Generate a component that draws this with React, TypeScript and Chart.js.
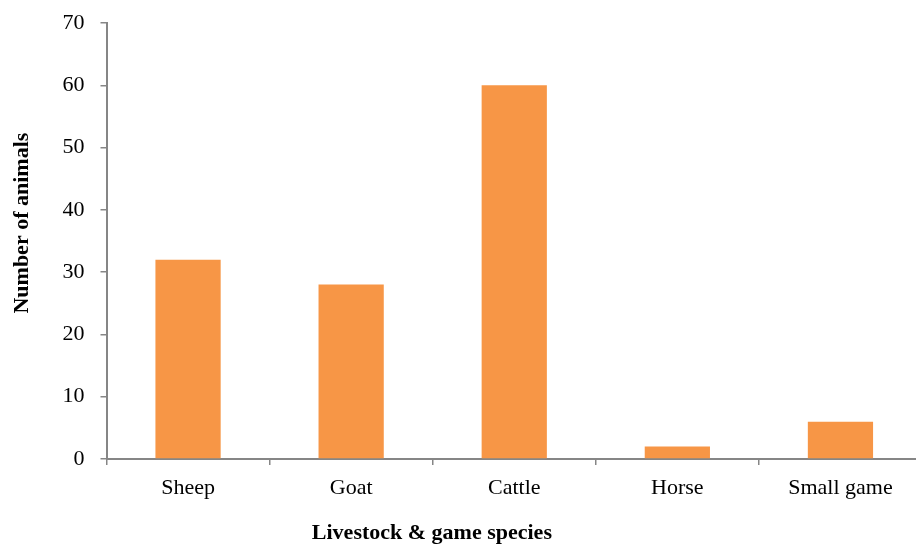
import React, { useEffect, useRef } from "react";
import { Chart, registerables } from "chart.js";

Chart.register(...registerables);

const categories = ["Sheep", "Goat", "Cattle", "Horse", "Small game"];
const animalCounts = [32, 28, 60, 2, 6];
const yMin = 0;
const yMax = 70;
const yStep = 10;
const xTitle = "Livestock & game species";
const yTitle = "Number of animals";

const FONT = "'Liberation Serif', 'Times New Roman', serif";
const AXIS = "#868686";

const axisTitles = {
  id: "axisTitles",
  afterDraw(chart: any) {
    const ctx = chart.ctx;
    const area = chart.chartArea;
    ctx.save();
    ctx.fillStyle = "#000";
    ctx.font = `bold 22px ${FONT}`;
    ctx.textAlign = "center";
    ctx.textBaseline = "middle";
    const xCenter = area.left + (area.right - area.left) * 0.399;
    ctx.fillText(xTitle, xCenter, area.bottom + 74);
    const yCenter = area.top + (area.bottom - area.top) * 0.459;
    ctx.translate(22, yCenter);
    ctx.rotate(-Math.PI / 2);
    ctx.fillText(yTitle, 0, 0);
    ctx.restore();
  },
};

export default function App() {
  const ref = useRef<HTMLCanvasElement | null>(null);

  useEffect(() => {
    if (!ref.current) return;
    const chart = new Chart(ref.current, {
      type: "bar",
      data: {
        labels: categories,
        datasets: [
          {
            data: animalCounts,
            backgroundColor: "#F79646",
            borderWidth: 0,
            barPercentage: 0.4,
            categoryPercentage: 1,
          },
        ],
      },
      options: {
        responsive: false,
        animation: false,
        layout: { padding: { top: 23, right: 2, bottom: 0, left: 0 } },
        plugins: { legend: { display: false }, tooltip: { enabled: false } },
        scales: {
          x: {
            grid: {
              display: true,
              drawOnChartArea: false,
              drawTicks: true,
              tickLength: 6,
              color: AXIS,
              lineWidth: 1.5,
              offset: true,
            },
            border: { display: true, color: AXIS, width: 2 },
            ticks: {
              color: "#000",
              font: { family: FONT, size: 22 },
              padding: 10,
              maxRotation: 0,
            },
            afterFit: (s: any) => {
              s.height = 548 - 459;
              s.paddingLeft = 0;
              s.paddingRight = 0;
            },
          },
          y: {
            min: yMin,
            max: yMax,
            grid: {
              display: true,
              drawOnChartArea: false,
              drawTicks: true,
              tickLength: 6,
              color: AXIS,
              lineWidth: 1.5,
            },
            border: { display: true, color: AXIS, width: 2 },
            ticks: {
              stepSize: yStep,
              color: "#000",
              font: { family: FONT, size: 22 },
              padding: 16,
            },
            afterFit: (s: any) => {
              s.width = 106.5;
              s.paddingTop = 0;
              s.paddingBottom = 0;
            },
          },
        },
      },
      plugins: [axisTitles],
    });
    return () => chart.destroy();
  }, []);

  return (
    <div
      style={{
        position: "fixed",
        left: 0,
        top: 0,
        width: 916,
        height: 548,
        overflow: "hidden",
        background: "#fff",
      }}
    >
      <canvas ref={ref} width={924} height={548} style={{ display: "block" }} />
    </div>
  );
}
